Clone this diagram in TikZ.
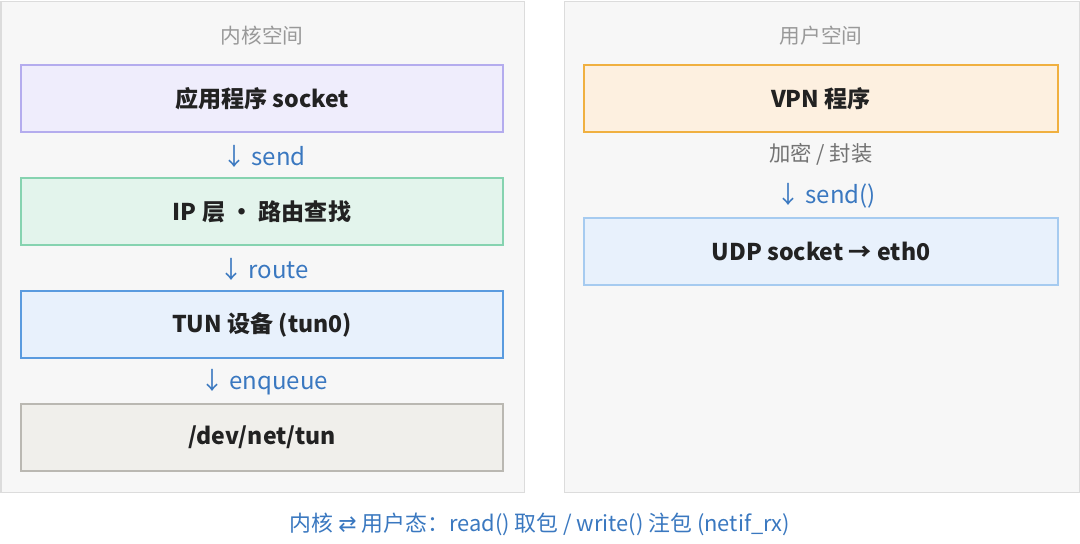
\documentclass[tikz,border=0pt]{standalone}
\usepackage{fontspec}
\setmainfont{Noto Sans CJK SC}
\newfontfamily\arrowfont{DejaVu Sans}
\definecolor{panelbg}{HTML}{F7F7F7}
\definecolor{panelline}{HTML}{DCDCDC}
\definecolor{ink}{HTML}{222222}
\definecolor{titlegray}{HTML}{999999}
\definecolor{linkblue}{HTML}{3A78C0}
\definecolor{appfill}{HTML}{EFEDFC}
\definecolor{appline}{HTML}{B4ACEE}
\definecolor{ipfill}{HTML}{E3F4EC}
\definecolor{ipline}{HTML}{86D3B0}
\definecolor{tunfill}{HTML}{E8F1FC}
\definecolor{tunline}{HTML}{5A9BDF}
\definecolor{devfill}{HTML}{F0EFEB}
\definecolor{devline}{HTML}{BAB8B2}
\definecolor{vpnfill}{HTML}{FDF0E0}
\definecolor{vpnline}{HTML}{F0B040}
\definecolor{udpline}{HTML}{A6CBF0}
\begin{document}
\begin{tikzpicture}[x=0.75pt,y=-0.75pt,%
% common options for the two panels:
panel/.style = {draw=panelline, fill=panelbg, line width=0.8pt},
% common options for blocks:
block/.style = {draw, line width=1pt, minimum height=50.25pt, inner sep=0,
            align=center, text=ink, font=\bfseries\fontsize{17.3}{20}\selectfont},
% common options for the labels:
title/.style = {text=titlegray, font=\fontsize{15.5}{18}\selectfont},
flow/.style = {text=linkblue, font=\fontsize{18}{21}\selectfont}]
\useasboundingbox (0,0) rectangle (1080,543);
\fill[white] (0,0) rectangle (1080,543);
\node[panel, minimum width=392.25pt, minimum height=368.25pt, anchor=north west] (kpanel) at (0.5,0.5) {};
\node[panel, minimum width=386.25pt, minimum height=368.25pt, anchor=north west] (upanel) at (563.5,0.5) {};
\node[title] (ktitle) at (262,36) {内核空间};
\node[title] (utitle) at (821,36) {用户空间};
\node[block, minimum width=361.5pt, draw=appline, fill=appfill] (app) at (262,98.5) {应用程序 socket};
\node[block, minimum width=361.5pt, draw=ipline, fill=ipfill] (ip) at (262,211.5) {IP 层 · 路由查找};
\node[block, minimum width=361.5pt, draw=tunline, fill=tunfill] (tun) at (262,324.5) {TUN 设备 (tun0)};
\node[block, minimum width=361.5pt, draw=devline, fill=devfill] (dev) at (262,437.5) {/dev/net/tun};
\node[flow] (sendk) at (264,156) {↓ send};
\node[flow] (route) at (264,269) {↓ route};
\node[flow] (enq) at (264,382) {↓ enqueue};
\node[block, minimum width=355.5pt, draw=vpnline, fill=vpnfill] (vpn) at (821,98.5) {VPN 程序};
\node[title, text=black!55, font=\fontsize{16}{19}\selectfont] (enc) at (821,154) {加密 / 封装};
\node[flow] (sendu) at (826,196) {↓ send()};
\node[block, minimum width=355.5pt, draw=udpline, fill=tunfill] (udp) at (821,251.5) {UDP socket → eth0};
\node[flow, font=\fontsize{16.4}{19}\selectfont] (note) at (540,524) {内核 {\arrowfont ⇄} 用户态：read() 取包 / write() 注包 (netif\_rx)};
\end{tikzpicture}
\end{document}
